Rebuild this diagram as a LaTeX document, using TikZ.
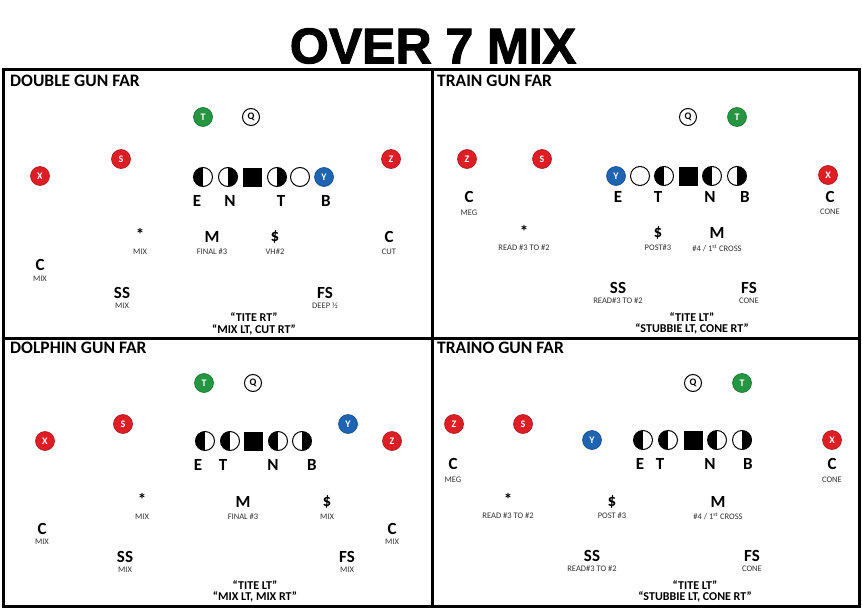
\documentclass[tikz,border=0pt]{standalone}
\usepackage{fontspec}
\setmainfont{Carlito}
\newfontfamily\titlefont{Liberation Sans}[BoldFeatures={FakeBold=2.2}]
\definecolor{pred}{RGB}{222,30,36}
\definecolor{pgreen}{RGB}{36,150,66}
\definecolor{pblue}{RGB}{30,100,178}
\tikzset{
  pl/.style={circle, minimum size=19pt, inner sep=0pt, font=\bfseries\fontsize{10}{10}\selectfont, text=white},
  rd/.style={pl, fill=pred, draw=pred!75!black, line width=0.6pt},
  grn/.style={pl, fill=pgreen, draw=pgreen!75!black, line width=0.6pt},
  blu/.style={pl, fill=pblue, draw=pblue!75!black, line width=0.6pt},
  qb/.style={circle, minimum size=17pt, inner sep=0pt, draw, line width=1pt, fill=white, font=\bfseries\fontsize{10}{10}\selectfont},
  lm/.style={circle, draw, line width=1pt, minimum size=19pt, inner sep=0pt, fill=white},
  lnl/.style={lm, path picture={\fill[black] (path picture bounding box.south west) rectangle (path picture bounding box.north);}},
  lnr/.style={lm, path picture={\fill[black] (path picture bounding box.south) rectangle (path picture bounding box.north east);}},
  ctr/.style={rectangle, fill=black, minimum size=19pt, inner sep=0pt},
  big/.style={inner sep=0pt, font=\bfseries\fontsize{17}{17}\selectfont},
  sm/.style={inner sep=0pt, font=\fontsize{8.5}{9}\selectfont, text=black!80},
  qt/.style={inner sep=0pt, font=\bfseries\fontsize{12}{12}\selectfont},
  hd/.style={inner sep=0pt, anchor=base west, font=\bfseries\fontsize{17.5}{17.5}\selectfont},
  frame/.style={line width=3pt}
}
\begin{document}
\begin{tikzpicture}[x=1pt,y=-1pt]
\useasboundingbox (0,0) rectangle (862,610);
\fill[white] (0,0) rectangle (862,610);
% title
\node[inner sep=0pt, font=\titlefont\bfseries\fontsize{50}{50}\selectfont] (title) at (433,46) {OVER 7 MIX};
% frame
\draw[frame] (3,70) rectangle (859,606);
\draw[frame] (432,70) -- (432,606);
\draw[frame] (3,338) -- (859,338);
% ---------------- DOUBLE GUN FAR
\node[hd] (ha) at (10,86) {DOUBLE GUN FAR};
\node[grn] (at) at (203,117) {T};
\node[qb] (aq) at (251,117) {Q};
\node[rd] (as) at (121,159) {S};
\node[rd] (ax) at (40,176) {X};
\node[rd] (az) at (391,159) {Z};
\node[lnl] (al1) at (203,177) {};
\node[lnr] (al2) at (228,177) {};
\node[ctr] (ac) at (252,177) {};
\node[lnr] (al3) at (277,177) {};
\node[lm] (al4) at (300,177) {};
\node[blu] (ay) at (324,177) {Y};
\node[big] (ae) at (197,201) {E};
\node[big] (an) at (230,201) {N};
\node[big] (att) at (281,201) {T};
\node[big] (ab) at (326,201) {B};
\node[big] (ast) at (140,234) {*};
\node[sm] (ast2) at (140,252) {MIX};
\node[big] (am) at (212,237) {M};
\node[sm] (am2) at (212,252) {FINAL \#3};
\node[big] (ad) at (275,237) {\$};
\node[sm] (ad2) at (275,252) {VH\#2};
\node[big] (acr) at (389,237) {C};
\node[sm] (acr2) at (389,252) {CUT};
\node[big] (acl) at (40,265) {C};
\node[sm] (acl2) at (40,279) {MIX};
\node[big] (ass) at (122,293) {SS};
\node[sm] (ass2) at (122,306) {MIX};
\node[big] (afs) at (325,293) {FS};
\node[sm] (afs2) at (325,306) {DEEP ½};
\node[qt] (aq1) at (254,317) {“TITE RT”};
\node[qt] (aq2) at (254,330) {“MIX LT, CUT RT”};
% ---------------- TRAIN GUN FAR
\node[hd] (hb) at (437,86) {TRAIN GUN FAR};
\node[qb] (bq) at (688,117) {Q};
\node[grn] (bt) at (737,117) {T};
\node[rd] (bz) at (467,159) {Z};
\node[rd] (bs) at (542,159) {S};
\node[rd] (bx) at (828,175) {X};
\node[blu] (by) at (616,176) {Y};
\node[lm] (bl1) at (640,176) {};
\node[lnl] (bl2) at (664,176) {};
\node[ctr] (bc) at (688,176) {};
\node[lnl] (bl3) at (712,176) {};
\node[lnr] (bl4) at (737,176) {};
\node[big] (bcl) at (469,197) {C};
\node[sm] (bcl2) at (469,213) {MEG};
\node[big] (be) at (618,197) {E};
\node[big] (btt) at (658,197) {T};
\node[big] (bn) at (710,197) {N};
\node[big] (bb) at (745,197) {B};
\node[big] (bcr) at (830,197) {C};
\node[sm] (bcr2) at (830,212) {CONE};
\node[big] (bst) at (524,231) {*};
\node[sm] (bst2) at (524,248) {READ \#3 TO \#2};
\node[big] (bd) at (658,233) {\$};
\node[sm] (bd2) at (658,248) {POST\#3};
\node[big] (bm) at (717,233) {M};
\node[sm] (bm2) at (717,248) {\#4 / 1\textsuperscript{st} CROSS};
\node[big] (bss) at (618,288) {SS};
\node[sm] (bss2) at (618,301) {READ\#3 TO \#2};
\node[big] (bfs) at (749,288) {FS};
\node[sm] (bfs2) at (749,301) {CONE};
\node[qt] (bq1) at (692,317) {“TITE LT”};
\node[qt] (bq2) at (692,329) {“STUBBIE LT, CONE RT”};
% ---------------- DOLPHIN GUN FAR
\node[hd] (hc) at (10,353) {DOLPHIN GUN FAR};
\node[grn] (ct) at (204,383) {T};
\node[qb] (cq) at (253,383) {Q};
\node[rd] (cs) at (123,424) {S};
\node[rd] (cx) at (45,441) {X};
\node[blu] (cy) at (348,424) {Y};
\node[rd] (cz) at (392,441) {Z};
\node[lnl] (cl1) at (205,441) {};
\node[lnl] (cl2) at (230,441) {};
\node[ctr] (cc) at (253,441) {};
\node[lnl] (cl3) at (278,441) {};
\node[lnr] (cl4) at (302,441) {};
\node[big] (ce) at (198,465) {E};
\node[big] (ctt) at (223,465) {T};
\node[big] (cn) at (273,465) {N};
\node[big] (cb) at (312,465) {B};
\node[big] (cst) at (142,499) {*};
\node[sm] (cst2) at (142,517) {MIX};
\node[big] (cm) at (243,502) {M};
\node[sm] (cm2) at (243,517) {FINAL \#3};
\node[big] (cd) at (327,502) {\$};
\node[sm] (cd2) at (327,517) {MIX};
\node[big] (ccl) at (42,529) {C};
\node[sm] (ccl2) at (42,542) {MIX};
\node[big] (ccr) at (392,529) {C};
\node[sm] (ccr2) at (392,542) {MIX};
\node[big] (css) at (125,557) {SS};
\node[sm] (css2) at (125,570) {MIX};
\node[big] (cfs) at (347,557) {FS};
\node[sm] (cfs2) at (347,570) {MIX};
\node[qt] (cq1) at (255,585) {“TITE LT”};
\node[qt] (cq2) at (255,597) {“MIX LT, MIX RT”};
% ---------------- TRAINO GUN FAR
\node[hd] (hd) at (437,353) {TRAINO GUN FAR};
\node[qb] (dq) at (693,383) {Q};
\node[grn] (dt) at (742,383) {T};
\node[rd] (dz) at (454,424) {Z};
\node[rd] (ds) at (523,424) {S};
\node[blu] (dy) at (592,440) {Y};
\node[rd] (dx) at (832,440) {X};
\node[lnl] (dl1) at (643,440) {};
\node[lnl] (dl2) at (668,440) {};
\node[ctr] (dc) at (693,440) {};
\node[lnl] (dl3) at (717,440) {};
\node[lnr] (dl4) at (742,440) {};
\node[big] (dcl) at (453,464) {C};
\node[sm] (dcl2) at (453,480) {MEG};
\node[big] (de) at (640,464) {E};
\node[big] (dtt) at (660,464) {T};
\node[big] (dn) at (710,464) {N};
\node[big] (db) at (748,464) {B};
\node[big] (dcr) at (832,464) {C};
\node[sm] (dcr2) at (832,480) {CONE};
\node[big] (dst) at (508,499) {*};
\node[sm] (dst2) at (508,516) {READ \#3 TO \#2};
\node[big] (dd) at (612,502) {\$};
\node[sm] (dd2) at (612,516) {POST \#3};
\node[big] (dm) at (718,502) {M};
\node[sm] (dm2) at (718,516) {\#4 / 1\textsuperscript{st} CROSS};
\node[big] (dss) at (592,556) {SS};
\node[sm] (dss2) at (592,569) {READ\#3 TO \#2};
\node[big] (dfs) at (752,556) {FS};
\node[sm] (dfs2) at (752,569) {CONE};
\node[qt] (dq1) at (695,585) {“TITE LT”};
\node[qt] (dq2) at (695,597) {“STUBBIE LT, CONE RT”};
\end{tikzpicture}
\end{document}
